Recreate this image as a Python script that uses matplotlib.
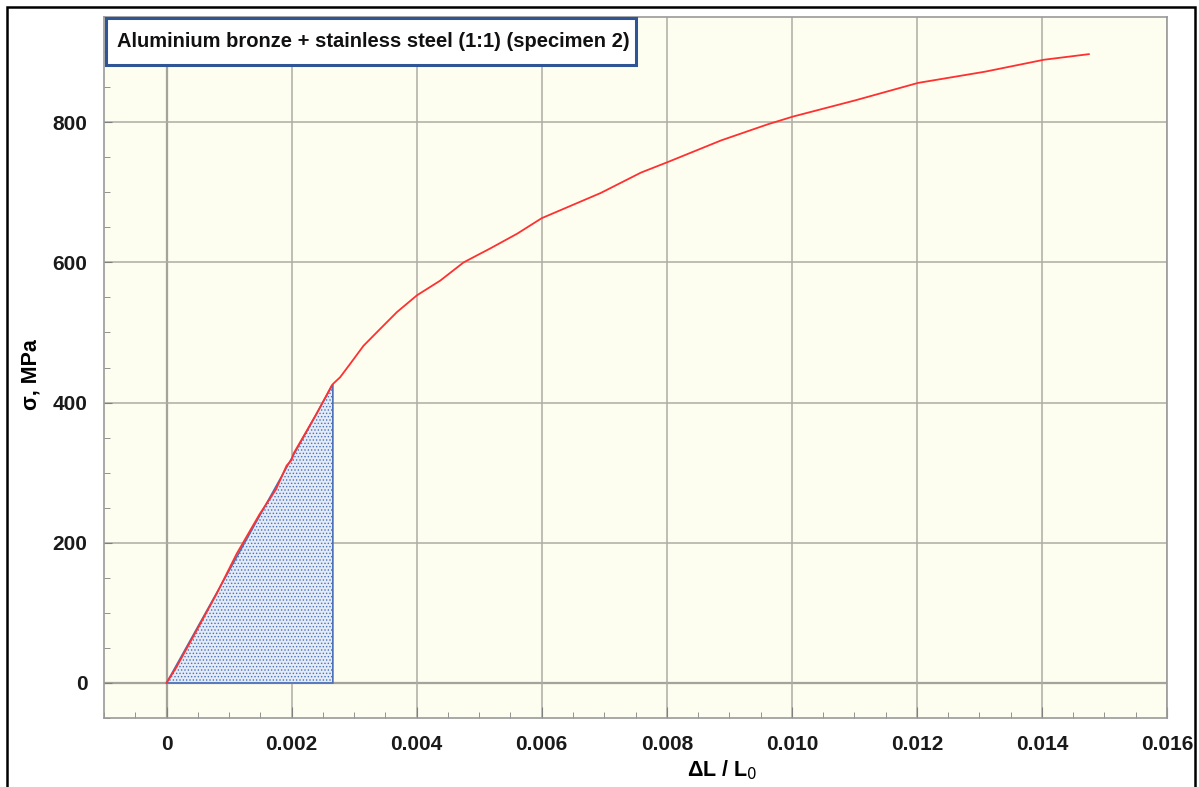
import matplotlib.pyplot as plt
from matplotlib.patches import Rectangle, Polygon
from matplotlib.ticker import MultipleLocator

# strain / stress readings (ΔL/L0, MPa)
strain = [0.0, 0.00002, 0.000155, 0.00042, 0.0008, 0.00112, 0.00149, 0.00175,
          0.00192, 0.00200, 0.00203, 0.0024, 0.00264, 0.002667, 0.002775,
          0.002935, 0.00315, 0.003416, 0.003684, 0.004005, 0.004378, 0.004752,
          0.00518, 0.00561, 0.006, 0.006945, 0.007586, 0.008014, 0.00887,
          0.009618, 0.01002, 0.01101, 0.01202, 0.01309, 0.01403, 0.01475]
stress = [0.0, 3, 22, 65, 127, 184, 241, 276,
          310, 318, 327, 384, 424, 427, 436,
          455, 481, 505, 529, 553, 574, 600,
          620, 641, 663, 699, 728, 743, 774,
          797, 808, 831, 856, 872, 889, 897]

# elastic-energy triangle under the linear part
tri_strain = [0.0, 0.00266, 0.00266]
tri_stress = [0.0, 426, 0.0]

title = "Aluminium bronze + stainless steel (1:1) (specimen 2)"
xticks = [0, 0.002, 0.004, 0.006, 0.008, 0.010, 0.012, 0.014, 0.016]
xlabels = ["0", "0.002", "0.004", "0.006", "0.008", "0.010", "0.012", "0.014", "0.016"]
yticks = [0, 200, 400, 600, 800]

plt.rcParams['font.family'] = ['Liberation Sans', 'DejaVu Sans']
plt.rcParams['hatch.linewidth'] = 0.6

fig = plt.figure(figsize=(11.99, 7.87), dpi=100)
ax = fig.add_axes([104/1199, 1-718/787, (1167-104)/1199, (718-17)/787])
ax.set_facecolor('#fefef0')

ax.set_xlim(-0.001, 0.016)
ax.set_ylim(-50, 950)

ax.grid(True, which='major', color='#adada5', lw=1.1)
ax.axvline(0, color='#8a8a85', lw=1.6, zorder=1)
ax.axhline(0, color='#8a8a85', lw=1.6, zorder=1)

tri = Polygon(list(zip(tri_strain, tri_stress)), closed=True,
              facecolor='#e3ebf7', edgecolor='#4a70b8', hatch='.....',
              lw=1.2, zorder=2)
ax.add_patch(tri)

ax.plot(strain, stress, color='#ff3030', lw=1.3, zorder=3)

ax.set_xticks(xticks)
ax.set_xticklabels(xlabels)
ax.set_yticks(yticks)
ax.xaxis.set_minor_locator(MultipleLocator(0.0005))
ax.yaxis.set_minor_locator(MultipleLocator(50))
ax.tick_params(which='both', direction='in', color='#808080')
ax.tick_params(axis='x', which='major', length=8, pad=12, labelsize=15)
ax.tick_params(axis='x', which='minor', length=4)
ax.tick_params(axis='y', which='major', length=6, pad=12, labelsize=15)
ax.tick_params(axis='y', which='minor', length=4)
for lab in ax.get_xticklabels() + ax.get_yticklabels():
    lab.set_fontweight('bold')
    lab.set_color('#1a1a1a')

for s in ax.spines.values():
    s.set_color('#9a9a9a')
    s.set_linewidth(1.2)

ax.set_xlabel(r'ΔL / L$_0$', fontsize=15.5, fontweight='bold')
ax.xaxis.set_label_coords(0.582, -0.057)
ax.set_ylabel('σ, MPa', fontsize=15.5, fontweight='bold')
ax.yaxis.set_label_coords(-0.059, 0.49)

# title box at the top left of the plot area
ax.add_patch(Rectangle((0.0019, 0.9315), 0.4986, 0.0671, transform=ax.transAxes,
                       facecolor='white', edgecolor='#2f5597', lw=2.2,
                       zorder=5, clip_on=False))
ax.text(0.0122, 0.965, title, transform=ax.transAxes, ha='left', va='center',
        fontsize=14.5, fontweight='bold', color='#111111', zorder=6)

# outer frame round the whole figure
fig.patches.append(Rectangle((7/1199, -0.02), (1195-7)/1199, 1.02-7/787,
                             transform=fig.transFigure, fill=False,
                             edgecolor='black', lw=1.8))

fig.savefig('out.png', dpi=100)
